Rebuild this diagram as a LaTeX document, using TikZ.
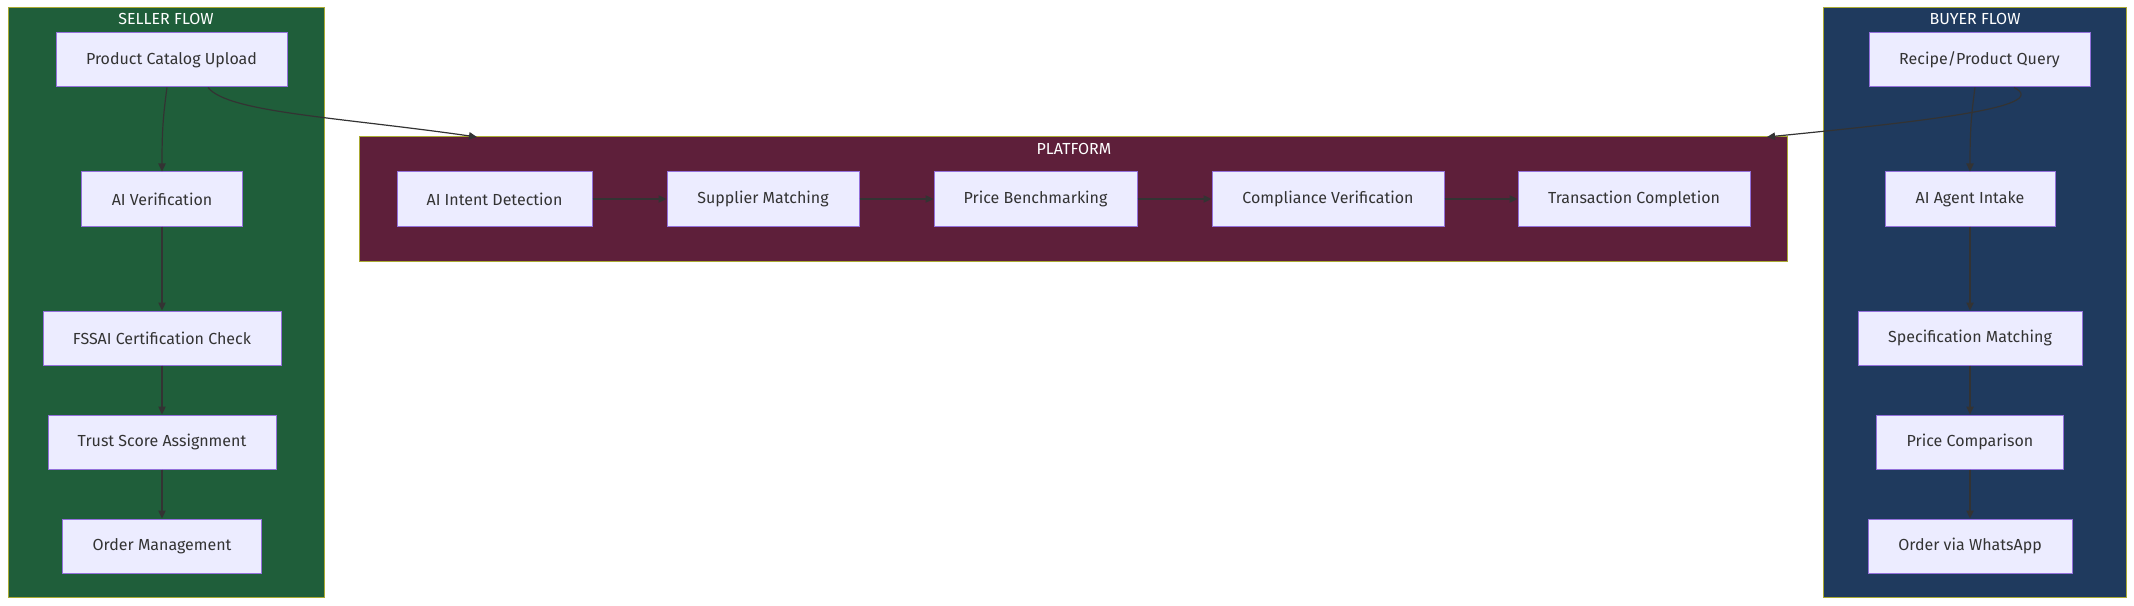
\documentclass[tikz,border=0pt]{standalone}
\usepackage{fontspec}
\setmainfont{Fira Sans}
\usetikzlibrary{arrows.meta}
\definecolor{sellerbg}{HTML}{1F5E3A}
\definecolor{platformbg}{HTML}{5E1F3A}
\definecolor{buyerbg}{HTML}{1F3A5E}
\definecolor{clusterline}{HTML}{AAAA33}
\definecolor{boxfill}{HTML}{ECECFF}
\definecolor{boxline}{HTML}{9370DB}
\definecolor{ink}{HTML}{333333}
\begin{document}
\begin{tikzpicture}[x=0.75pt,y=-0.75pt,
  box/.style={draw=boxline,fill=boxfill,line width=0.75pt,text=ink,minimum height=40.5pt,inner sep=0pt,font=\fontsize{12}{14}\selectfont},
  cluster/.style={draw=clusterline,line width=0.75pt},
  title/.style={text=white,inner sep=0pt,font=\fontsize{12}{14}\selectfont},
  flow/.style={draw=ink,line width=0.9pt,-{Triangle[length=6pt,width=5.5pt]}}]
\useasboundingbox (0,0) rectangle (2134,606);
\begin{scope}
\fill[sellerbg,cluster] (8,8) rectangle (324,597);
\fill[platformbg,cluster] (359,137) rectangle (1787,261);
\fill[buyerbg,cluster] (1823,8) rectangle (2126,597);
\node[title] (sellertitle) at (166,19) {SELLER FLOW};
\node[title] (platformtitle) at (1074,149) {PLATFORM};
\node[title] (buyertitle) at (1975,19) {BUYER FLOW};
\coordinate (sellerin) at (477,137);
\coordinate (buyerin) at (1767,137);
\end{scope}
\begin{scope}
\node[box,minimum width=173.25pt] (upload) at (171.5,60) {Product Catalog Upload};
\node[box,minimum width=120.75pt] (verify) at (162,199) {AI Verification};
\node[box,minimum width=178.5pt] (fssai) at (162,338) {FSSAI Certification Check};
\node[box,minimum width=171pt] (trust) at (162,442) {Trust Score Assignment};
\node[box,minimum width=149.25pt] (order) at (162,546) {Order Management};
\node[box,minimum width=146.25pt] (intent) at (494.5,199) {AI Intent Detection};
\node[box,minimum width=144pt] (supplier) at (763,199) {Supplier Matching};
\node[box,minimum width=152.25pt] (bench) at (1035.5,199) {Price Benchmarking};
\node[box,minimum width=174pt] (comply) at (1328,199) {Compliance Verification};
\node[box,minimum width=174pt] (txn) at (1634,199) {Transaction Completion};
\node[box,minimum width=165.75pt] (query) at (1979.5,60) {Recipe/Product Query};
\node[box,minimum width=127.5pt] (intake) at (1970,199) {AI Agent Intake};
\node[box,minimum width=168pt] (spec) at (1970,338) {Specification Matching};
\node[box,minimum width=140.25pt] (compare) at (1970,442) {Price Comparison};
\node[box,minimum width=153pt] (whatsapp) at (1970,546) {Order via WhatsApp};
\end{scope}
\draw[flow] ([xshift=-3.4pt]upload.south) .. controls +(-4,30) and +(0,-40) .. (verify.north);
\draw[flow] ([xshift=27.4pt]upload.south) .. controls +(20,25) and +(-140,-20) .. (sellerin);
\draw[flow] ([xshift=-3.4pt]query.south) .. controls +(-4,30) and +(0,-40) .. (intake.north);
\draw[flow] ([xshift=25.9pt]query.south) .. controls +(40,20) and +(150,-15) .. (buyerin);
\foreach \a/\b in {verify/fssai,fssai/trust,trust/order,intent/supplier,supplier/bench,bench/comply,comply/txn,intake/spec,spec/compare,compare/whatsapp}
  \draw[flow] (\a) -- (\b);
\end{tikzpicture}
\end{document}
